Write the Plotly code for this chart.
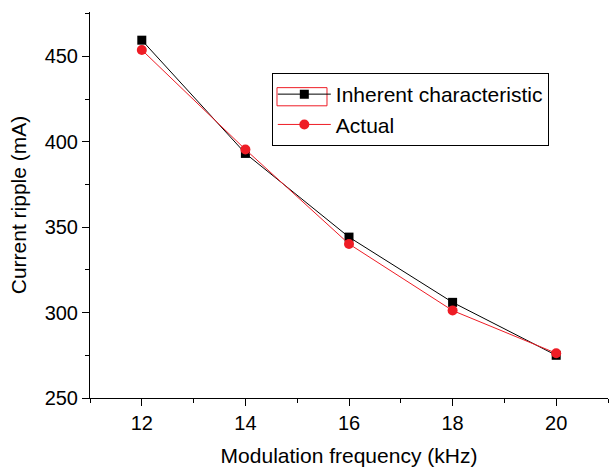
import plotly.graph_objects as go

freq_khz = [12, 14, 16, 18, 20]
inherent_ma = [459.5, 393.2, 344.2, 306.0, 275.0]
actual_ma = [453.8, 395.5, 340.2, 301.2, 276.2]

x_ticks = [12, 14, 16, 18, 20]
y_ticks = [250, 300, 350, 400, 450]

FONT = "Arial, Liberation Sans, sans-serif"

fig = go.Figure()
fig.add_trace(go.Scatter(
    x=freq_khz, y=inherent_ma, name="Inherent characteristic",
    mode="lines+markers",
    line=dict(color="black", width=1),
    marker=dict(symbol="square", size=9, color="black"),
))
fig.add_trace(go.Scatter(
    x=freq_khz, y=actual_ma, name="Actual",
    mode="lines+markers",
    line=dict(color="#ee1c25", width=1),
    marker=dict(symbol="circle", size=10, color="#ee1c25"),
))

axis_common = dict(
    showline=True, linecolor="black", linewidth=1,
    ticks="outside", ticklen=7, tickwidth=1, tickcolor="black",
    showgrid=False, zeroline=False,
    tickfont=dict(family=FONT, size=20, color="black"),
)

fig.update_xaxes(
    range=[11, 21], tickvals=x_ticks,
    minor=dict(ticks="outside", ticklen=4, dtick=1, tick0=11, tickcolor="black", showgrid=False),
    title=dict(text="Modulation frequency (kHz)", font=dict(family=FONT, size=21, color="black"), standoff=15),
    **axis_common,
)
fig.update_yaxes(
    range=[250, 476], tickvals=y_ticks,
    minor=dict(ticks="outside", ticklen=4, dtick=25, tick0=250, tickcolor="black", showgrid=False),
    title=dict(text="Current ripple (mA)", font=dict(family=FONT, size=21, color="black"), standoff=12),
    **axis_common,
)

# red selection box around the first legend symbol (as in the reference)
fig.add_shape(
    type="rect", xref="paper", yref="paper",
    x0=0.361, x1=0.4575, y0=0.757, y1=0.804,
    line=dict(color="#ee1c25", width=1), fillcolor="rgba(0,0,0,0)", layer="above",
)

fig.update_layout(
    width=611, height=470,
    margin=dict(l=90, r=3, t=12, b=72),
    paper_bgcolor="white", plot_bgcolor="white",
    font=dict(family=FONT, size=20, color="black"),
    legend=dict(
        x=0.351, y=0.842, xanchor="left", yanchor="top",
        bordercolor="black", borderwidth=1, bgcolor="rgba(0,0,0,0)",
        font=dict(family=FONT, size=21, color="black"),
        tracegroupgap=0, itemwidth=53,
    ),
    showlegend=True,
)

fig.write_html("out.html", config={"displayModeBar": False},
               post_script="document.body.style.margin='0';")
